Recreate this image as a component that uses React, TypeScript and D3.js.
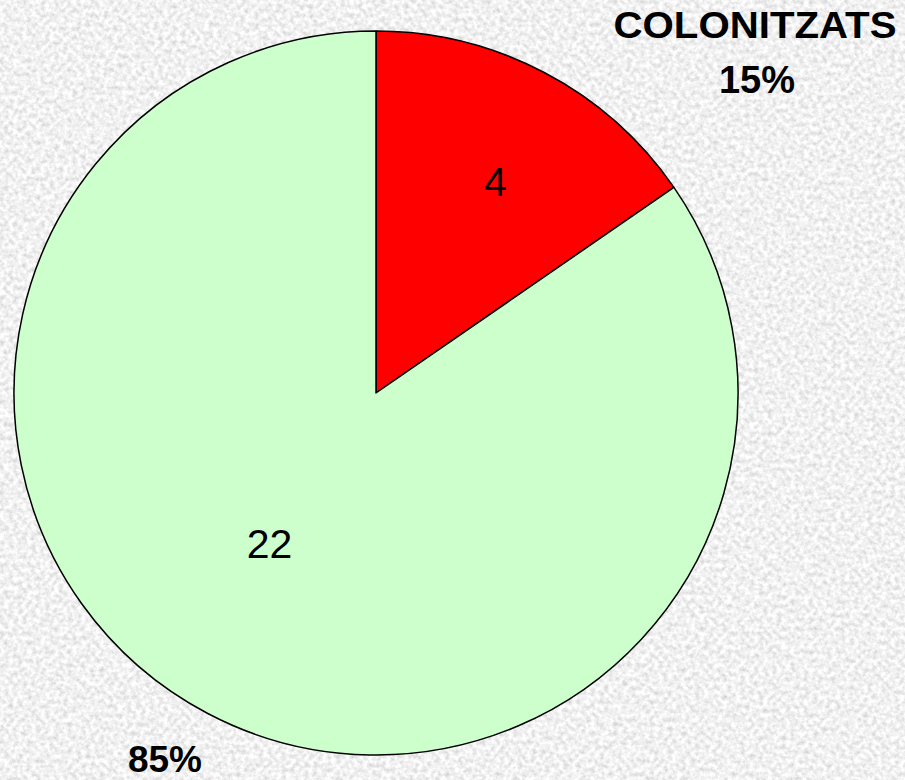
import { useEffect, useRef } from 'react';
import * as d3 from 'd3';

const categories = ['COLONITZATS', 'NO COLONITZATS'];
const counts = [4, 22];
const percentLabels = ['15%', '85%'];
const sliceColors = ['#ff0000', '#ccffcc'];

const App = () => {
  const svgRef = useRef<SVGSVGElement>(null);

  useEffect(() => {
    if (!svgRef.current) return;
    d3.select(svgRef.current).selectAll('*').remove();

    const width = 905;
    const height = 780;
    const cx = 376;
    const cy = 393;
    const radius = 362;
    const font = 'Liberation Sans, Arial, sans-serif';

    const svg = d3.select(svgRef.current)
      .attr('width', width)
      .attr('height', height);

    // granite-like background
    const defs = svg.append('defs');
    const filter = defs.append('filter')
      .attr('id', 'granite')
      .attr('x', 0).attr('y', 0).attr('width', '100%').attr('height', '100%');
    filter.append('feTurbulence')
      .attr('type', 'fractalNoise')
      .attr('baseFrequency', 0.22)
      .attr('numOctaves', 3)
      .attr('seed', 7)
      .attr('result', 'noise');
    filter.append('feColorMatrix')
      .attr('in', 'noise')
      .attr('type', 'matrix')
      .attr('values', '0.6 0 0 0 0.58  0.6 0 0 0 0.58  0.6 0 0 0 0.58  0 0 0 0 1');

    svg.append('rect')
      .attr('width', width)
      .attr('height', height)
      .attr('fill', '#e2e2e2');
    svg.append('rect')
      .attr('width', width)
      .attr('height', height)
      .attr('filter', 'url(#granite)');

    const data = categories.map((c, i) => ({ category: c, value: counts[i], color: sliceColors[i] }));

    const pie = d3.pie<typeof data[number]>()
      .sort(null)
      .value(d => d.value);
    const arcs = pie(data);

    const arc = d3.arc<d3.PieArcDatum<typeof data[number]>>()
      .innerRadius(0)
      .outerRadius(radius);

    const g = svg.append('g')
      .attr('transform', `translate(${cx},${cy})`);

    g.selectAll('path.slice')
      .data(arcs)
      .enter()
      .append('path')
      .attr('class', 'slice')
      .attr('d', arc)
      .attr('fill', d => d.data.color)
      .attr('stroke', '#000')
      .attr('stroke-width', 1.5)
      .attr('stroke-linejoin', 'round');

    // value labels inside slices (small slice label sits further out)
    const labelRadius = [242, 186];
    const labelShift = [[7, 17], [-20, 0]];
    g.selectAll('text.value')
      .data(arcs)
      .enter()
      .append('text')
      .attr('class', 'value')
      .attr('x', (d, i) => {
        const a = (d.startAngle + d.endAngle) / 2;
        return Math.sin(a) * labelRadius[i] + labelShift[i][0];
      })
      .attr('y', (d, i) => {
        const a = (d.startAngle + d.endAngle) / 2;
        return -Math.cos(a) * labelRadius[i] + labelShift[i][1];
      })
      .attr('text-anchor', 'middle')
      .attr('font-family', font)
      .attr('font-size', 41)
      .attr('fill', '#000')
      .text(d => String(d.data.value));

    // outside labels
    svg.append('text')
      .attr('x', 755)
      .attr('y', 38)
      .attr('text-anchor', 'middle')
      .attr('font-family', font)
      .attr('font-weight', 'bold')
      .attr('font-size', 36)
      .attr('textLength', 283)
      .attr('lengthAdjust', 'spacingAndGlyphs')
      .text(categories[0]);
    svg.append('text')
      .attr('x', 757)
      .attr('y', 93)
      .attr('text-anchor', 'middle')
      .attr('font-family', font)
      .attr('font-weight', 'bold')
      .attr('font-size', 38)
      .text(percentLabels[0]);
    svg.append('text')
      .attr('x', 165)
      .attr('y', 772)
      .attr('text-anchor', 'middle')
      .attr('font-family', font)
      .attr('font-weight', 'bold')
      .attr('font-size', 37)
      .text(percentLabels[1]);
  }, []);

  return (
    <svg ref={svgRef} style={{ position: 'absolute', left: 0, top: 0, display: 'block' }} />
  );
};

export default App;
